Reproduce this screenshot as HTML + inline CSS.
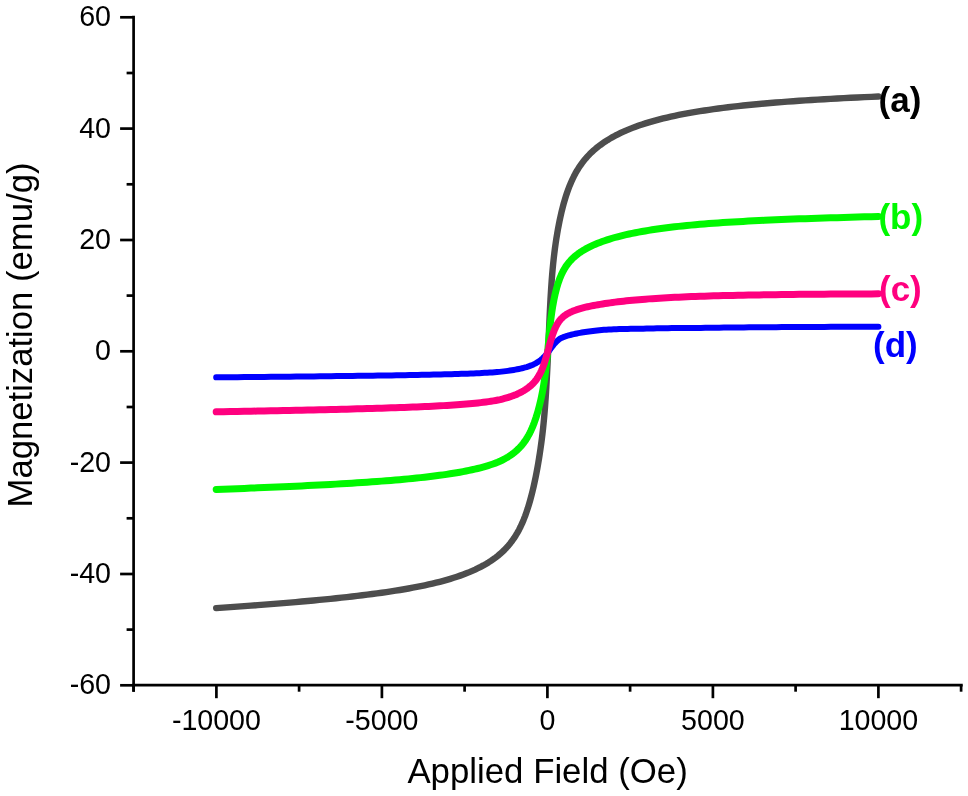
<!DOCTYPE html>
<html lang="en"><head><meta charset="utf-8"><title>Magnetization vs Applied Field</title>
<style>
html,body{margin:0;padding:0;background:#fff;}
body{width:968px;height:796px;overflow:hidden;}
svg{display:block;font-family:"Liberation Sans",Arial,Helvetica,sans-serif;}
.ax line{stroke:#000;stroke-width:2.7;}
.tl text{font-size:29.5px;fill:#000;}
.ttl{font-size:35.8px;fill:#000;}
.cv path{fill:none;stroke-linecap:round;stroke-linejoin:round;}
.lb text{font-size:35px;font-weight:bold;}
</style></head><body>
<svg width="968" height="796" viewBox="0 0 968 796">
<rect width="968" height="796" fill="#fff"/>
<g class="cv">
<path stroke="#4d4d4d" stroke-width="6.4" d="M216.20,608.14 223.34,607.65 230.39,607.15 237.34,606.65 244.20,606.16 250.97,605.66 257.64,605.15 264.22,604.65 270.70,604.14 277.10,603.63 283.40,603.11 289.61,602.59 295.73,602.07 301.76,601.54 307.70,601.00 313.55,600.47 319.32,599.92 324.99,599.37 330.58,598.81 336.08,598.24 341.50,597.67 346.83,597.09 352.07,596.50 357.23,595.90 362.30,595.29 367.29,594.67 372.20,594.03 377.02,593.39 381.76,592.73 386.42,592.06 391.00,591.38 395.50,590.68 399.92,589.97 404.26,589.24 408.52,588.49 412.70,587.72 416.80,586.94 420.83,586.13 424.77,585.31 428.65,584.46 432.44,583.59 436.16,582.70 439.81,581.78 443.38,580.84 446.88,579.87 450.31,578.87 453.66,577.82 456.95,576.74 460.16,575.63 463.30,574.49 466.37,573.31 469.37,572.10 472.30,570.84 475.17,569.55 477.96,568.22 480.69,566.84 483.36,565.41 485.95,563.94 488.49,562.41 490.95,560.82 493.36,559.17 495.70,557.46 497.98,555.68 500.19,553.82 502.35,551.88 504.44,549.85 506.47,547.73 508.45,545.51 510.36,543.19 512.22,540.74 514.02,538.18 515.77,535.49 517.45,532.66 519.09,529.68 520.66,526.53 522.19,523.19 523.66,519.70 525.08,516.06 526.44,512.26 527.76,508.32 529.02,504.23 530.24,500.01 531.41,495.67 532.52,491.22 533.59,486.67 534.62,482.04 535.60,477.34 536.53,472.59 537.42,467.80 538.27,462.98 539.07,458.13 539.83,453.26 540.55,448.40 541.23,443.52 541.88,438.61 542.48,433.64 543.05,428.60 543.57,423.49 544.07,418.30 544.53,413.02 544.95,407.69 545.35,402.34 545.71,397.02 546.04,391.79 546.34,386.73 546.61,381.92 546.86,377.40 547.07,373.24 547.27,369.47 547.44,366.10 547.58,363.15 547.71,360.62 547.81,358.49 547.89,356.74 547.96,355.34 548.01,354.27 548.05,353.49 548.08,352.97 548.09,352.66 548.10,352.53 548.10,352.50 548.10,352.47 548.11,352.30 548.12,351.94 548.15,351.31 548.19,350.38 548.24,349.09 548.30,347.41 548.39,345.31 548.49,342.75 548.62,339.70 548.76,336.17 548.93,332.14 549.12,327.63 549.34,322.66 549.58,317.29 549.85,311.59 550.15,305.63 550.48,299.52 550.84,293.35 551.23,287.20 551.65,281.16 552.11,275.27 552.60,269.57 553.13,264.05 553.69,258.71 554.29,253.54 554.93,248.52 555.61,243.62 556.33,238.84 557.09,234.15 557.89,229.55 558.73,225.05 559.61,220.63 560.54,216.30 561.52,212.08 562.54,207.95 563.60,203.94 564.71,200.05 565.87,196.27 567.08,192.62 568.34,189.11 569.65,185.72 571.01,182.46 572.42,179.34 573.89,176.34 575.40,173.46 576.97,170.71 578.60,168.07 580.28,165.54 582.01,163.11 583.80,160.78 585.65,158.55 587.56,156.40 589.52,154.33 591.55,152.33 593.63,150.41 595.78,148.56 597.98,146.76 600.25,145.03 602.58,143.35 604.97,141.72 607.43,140.15 609.95,138.62 612.53,137.13 615.18,135.69 617.90,134.30 620.68,132.94 623.53,131.62 626.45,130.34 629.44,129.10 632.49,127.89 635.62,126.72 638.81,125.58 642.08,124.47 645.42,123.39 648.83,122.34 652.31,121.33 655.87,120.34 659.50,119.38 663.20,118.45 666.98,117.54 670.83,116.66 674.76,115.81 678.77,114.98 682.85,114.17 687.01,113.39 691.25,112.63 695.57,111.89 699.96,111.17 704.44,110.47 709.00,109.79 713.63,109.13 718.35,108.49 723.15,107.87 728.04,107.27 733.00,106.68 738.05,106.11 743.19,105.55 748.40,105.01 753.71,104.48 759.10,103.97 764.57,103.48 770.13,103.00 775.78,102.53 781.52,102.07 787.34,101.63 793.25,101.20 799.25,100.78 805.34,100.37 811.53,99.97 817.80,99.59 824.16,99.21 830.61,98.85 837.16,98.49 843.80,98.15 850.53,97.81 857.36,97.49 864.28,97.17 871.29,96.86 878.40,96.56"/>
<path stroke="#00f800" stroke-width="7" d="M216.20,489.43 223.33,489.17 230.37,488.91 237.32,488.65 244.17,488.39 250.93,488.12 257.59,487.86 264.16,487.59 270.64,487.31 277.02,487.04 283.32,486.76 289.52,486.48 295.63,486.20 301.66,485.91 307.59,485.62 313.44,485.33 319.19,485.03 324.86,484.73 330.44,484.43 335.94,484.12 341.35,483.81 346.67,483.49 351.91,483.17 357.06,482.84 362.13,482.51 367.11,482.18 372.01,481.83 376.83,481.49 381.57,481.13 386.22,480.77 390.79,480.40 395.29,480.03 399.70,479.65 404.03,479.26 408.29,478.86 412.46,478.45 416.56,478.04 420.58,477.61 424.52,477.18 428.39,476.73 432.18,476.28 435.90,475.81 439.54,475.34 443.11,474.85 446.61,474.34 450.03,473.83 453.38,473.30 456.66,472.75 459.86,472.19 463.00,471.62 466.07,471.03 469.06,470.42 471.99,469.79 474.85,469.15 477.65,468.48 480.37,467.79 483.03,467.08 485.63,466.34 488.16,465.58 490.62,464.79 493.02,463.97 495.36,463.12 497.64,462.23 499.85,461.30 502.00,460.27 504.09,459.19 506.12,458.06 508.10,456.89 510.01,455.66 511.87,454.38 513.66,453.03 515.41,451.61 517.09,450.13 518.72,448.56 520.30,446.92 521.82,445.19 523.29,443.37 524.71,441.45 526.07,439.44 527.38,437.33 528.65,435.12 529.86,432.82 531.03,430.41 532.14,427.91 533.21,425.33 534.24,422.66 535.21,419.93 536.15,417.15 537.03,414.33 537.88,411.46 538.68,408.55 539.44,405.62 540.16,402.68 540.84,399.73 541.48,396.78 542.09,393.83 542.65,390.89 543.18,387.95 543.67,385.02 544.13,382.12 544.56,379.24 544.95,376.41 545.31,373.65 545.64,370.98 545.94,368.44 546.21,366.04 546.46,363.82 546.67,361.78 546.87,359.94 547.04,358.31 547.18,356.88 547.31,355.66 547.41,354.63 547.49,353.79 547.56,353.12 547.61,352.60 547.65,352.23 547.68,351.98 547.69,351.83 547.70,351.76 547.70,351.75 547.70,351.73 547.71,351.66 547.72,351.48 547.75,351.19 547.79,350.74 547.84,350.13 547.90,349.34 547.99,348.34 548.09,347.12 548.22,345.68 548.36,343.99 548.53,342.07 548.72,339.90 548.94,337.50 549.18,334.87 549.45,332.05 549.75,329.07 550.08,325.95 550.44,322.73 550.84,319.45 551.26,316.14 551.72,312.83 552.21,309.53 552.74,306.26 553.30,303.05 553.90,299.88 554.54,296.78 555.22,293.76 555.94,290.81 556.70,287.96 557.50,285.20 558.34,282.54 559.23,280.00 560.16,277.56 561.13,275.25 562.15,273.05 563.22,270.96 564.33,268.98 565.50,267.09 566.71,265.31 567.97,263.61 569.28,261.99 570.64,260.46 572.05,258.99 573.52,257.59 575.04,256.25 576.61,254.96 578.23,253.72 579.92,252.52 581.65,251.37 583.45,250.25 585.30,249.17 587.21,248.12 589.18,247.10 591.20,246.11 593.29,245.14 595.44,244.20 597.64,243.28 599.91,242.39 602.25,241.52 604.64,240.68 607.10,239.85 609.62,239.05 612.21,238.27 614.86,237.50 617.58,236.76 620.37,236.04 623.22,235.34 626.15,234.66 629.14,234.00 632.20,233.36 635.32,232.74 638.52,232.14 641.79,231.54 645.14,230.94 648.55,230.37 652.04,229.81 655.60,229.27 659.23,228.75 662.94,228.24 666.72,227.75 670.58,227.27 674.51,226.81 678.52,226.37 682.61,225.93 686.78,225.52 691.02,225.11 695.34,224.72 699.75,224.34 704.23,223.97 708.79,223.61 713.43,223.26 718.16,222.93 722.97,222.60 727.85,222.29 732.83,221.98 737.88,221.68 743.02,221.39 748.25,221.11 753.56,220.83 758.95,220.57 764.43,220.31 770.00,220.05 775.66,219.80 781.40,219.56 787.23,219.33 793.15,219.10 799.16,218.87 805.26,218.66 811.44,218.44 817.72,218.23 824.09,218.02 830.56,217.82 837.11,217.63 843.76,217.43 850.50,217.24 857.33,217.05 864.26,216.87 871.28,216.69 878.40,216.51"/>
<path stroke="#0000ff" stroke-width="6" d="M216.20,377.36 223.38,377.30 230.46,377.23 237.45,377.16 244.34,377.10 251.13,377.03 257.84,376.97 264.45,376.90 270.97,376.84 277.39,376.77 283.72,376.71 289.96,376.64 296.11,376.58 302.17,376.51 308.14,376.45 314.02,376.38 319.81,376.32 325.52,376.25 331.13,376.19 336.66,376.12 342.10,376.06 347.46,375.99 352.72,375.93 357.91,375.86 363.01,375.79 368.02,375.73 372.95,375.66 377.80,375.59 382.56,375.52 387.25,375.45 391.85,375.38 396.37,375.31 400.81,375.24 405.16,375.16 409.44,375.09 413.65,375.01 417.77,374.94 421.81,374.86 425.78,374.78 429.67,374.70 433.49,374.61 437.23,374.53 440.89,374.44 444.48,374.35 448.00,374.26 451.44,374.16 454.81,374.07 458.11,373.96 461.33,373.86 464.49,373.75 467.57,373.64 470.59,373.53 473.54,373.40 476.41,373.28 479.22,373.15 481.97,373.01 484.64,372.87 487.25,372.72 489.80,372.57 492.28,372.41 494.69,372.24 497.04,372.06 499.33,371.87 501.56,371.64 503.73,371.39 505.83,371.13 507.87,370.85 509.86,370.57 511.78,370.28 513.65,369.97 515.46,369.65 517.21,369.32 518.91,368.98 520.55,368.62 522.13,368.24 523.66,367.85 525.14,367.45 526.57,367.03 527.94,366.59 529.26,366.14 530.53,365.66 531.75,365.17 532.93,364.67 534.05,364.14 535.12,363.60 536.15,363.03 537.14,362.46 538.08,361.86 538.97,361.25 539.82,360.63 540.63,360.01 541.39,359.39 542.12,358.76 542.80,358.13 543.45,357.50 544.05,356.88 544.62,356.28 545.15,355.69 545.65,355.12 546.11,354.58 546.54,354.07 546.93,353.58 547.30,353.13 547.63,352.71 547.93,352.32 548.20,351.96 548.45,351.65 548.67,351.36 548.86,351.10 549.03,350.88 549.18,350.69 549.30,350.52 549.41,350.39 549.49,350.27 549.56,350.18 549.61,350.11 549.65,350.06 549.68,350.03 549.69,350.01 549.70,350.00 549.70,350.00 549.70,350.00 549.71,349.99 549.72,349.97 549.75,349.93 549.78,349.88 549.84,349.81 549.90,349.72 549.99,349.60 550.09,349.46 550.21,349.29 550.36,349.09 550.53,348.86 550.72,348.60 550.93,348.32 551.17,348.00 551.44,347.65 551.74,347.27 552.07,346.85 552.43,346.35 552.82,345.83 553.24,345.27 553.69,344.70 554.18,344.11 554.71,343.51 555.27,342.89 555.86,342.26 556.50,341.63 557.17,341.00 557.89,340.36 558.64,339.73 559.44,339.10 560.28,338.54 561.16,338.10 562.08,337.68 563.05,337.27 564.07,336.87 565.13,336.49 566.23,336.11 567.39,335.75 568.59,335.40 569.84,335.06 571.15,334.73 572.50,334.40 573.91,334.08 575.36,333.77 576.87,333.46 578.43,333.16 580.05,332.87 581.72,332.58 583.45,332.29 585.23,332.02 587.07,331.75 588.97,331.48 590.92,331.22 592.94,330.97 595.01,330.72 597.15,330.48 599.34,330.25 601.60,330.03 603.92,329.81 606.30,329.64 608.74,329.51 611.25,329.40 613.82,329.29 616.46,329.19 619.16,329.10 621.93,329.02 624.77,328.95 627.67,328.89 630.64,328.84 633.68,328.80 636.79,328.76 639.98,328.73 643.23,328.64 646.55,328.55 649.94,328.47 653.41,328.40 656.94,328.33 660.56,328.26 664.24,328.21 668.00,328.15 671.84,328.10 675.75,328.06 679.73,328.02 683.80,327.99 687.94,327.96 692.16,327.93 696.45,327.91 700.83,327.88 705.28,327.81 709.82,327.75 714.43,327.69 719.13,327.64 723.91,327.58 728.76,327.53 733.71,327.48 738.73,327.43 743.84,327.38 749.03,327.34 754.31,327.30 759.67,327.25 765.12,327.21 770.66,327.18 776.28,327.14 781.98,327.10 787.78,327.07 793.66,327.04 799.64,327.01 805.70,326.98 811.85,326.95 818.09,326.92 824.42,326.89 830.85,326.87 837.36,326.84 843.97,326.82 850.67,326.79 857.46,326.77 864.35,326.75 871.33,326.73 878.40,326.71"/>
<path stroke="#ff007f" stroke-width="7" d="M216.20,411.84 223.34,411.71 230.39,411.59 237.34,411.46 244.20,411.33 250.97,411.21 257.64,411.08 264.22,410.95 270.70,410.83 277.10,410.70 283.40,410.57 289.61,410.45 295.73,410.32 301.76,410.19 307.70,410.06 313.55,409.93 319.32,409.80 324.99,409.67 330.58,409.54 336.08,409.41 341.50,409.28 346.83,409.14 352.07,409.01 357.23,408.87 362.30,408.73 367.29,408.59 372.20,408.45 377.02,408.31 381.76,408.16 386.42,408.02 391.00,407.87 395.50,407.72 399.92,407.56 404.26,407.41 408.52,407.25 412.70,407.08 416.80,406.92 420.83,406.75 424.77,406.57 428.65,406.40 432.44,406.21 436.16,406.03 439.81,405.83 443.38,405.63 446.88,405.43 450.31,405.22 453.66,405.00 456.95,404.77 460.16,404.54 463.30,404.30 466.37,404.05 469.37,403.79 472.30,403.51 475.17,403.23 477.96,402.93 480.69,402.63 483.36,402.30 485.95,401.96 488.49,401.61 490.95,401.24 493.36,400.85 495.70,400.44 497.98,400.01 500.19,399.56 502.35,399.03 504.44,398.48 506.47,397.91 508.45,397.31 510.36,396.69 512.22,396.04 514.02,395.37 515.77,394.67 517.45,393.94 519.09,393.18 520.66,392.39 522.19,391.58 523.66,390.74 525.08,389.87 526.44,388.96 527.76,388.03 529.02,387.07 530.24,386.07 531.41,385.04 532.52,383.97 533.59,382.87 534.62,381.73 535.60,380.55 536.53,379.33 537.42,378.06 538.27,376.75 539.07,375.40 539.83,374.02 540.55,372.61 541.23,371.18 541.88,369.73 542.48,368.26 543.05,366.80 543.57,365.35 544.07,363.92 544.53,362.52 544.95,361.18 545.35,359.89 545.71,358.67 546.04,357.53 546.34,356.47 546.61,355.50 546.86,354.61 547.07,353.81 547.27,353.10 547.44,352.48 547.58,351.94 547.71,351.47 547.81,351.09 547.89,350.77 547.96,350.51 548.01,350.32 548.05,350.18 548.08,350.08 548.09,350.03 548.10,350.00 548.10,350.00 548.10,350.00 548.11,349.97 548.12,349.92 548.15,349.83 548.19,349.69 548.24,349.50 548.30,349.25 548.39,348.95 548.49,348.57 548.62,348.12 548.76,347.59 548.93,346.98 549.12,346.29 549.34,345.51 549.58,344.64 549.85,343.68 550.15,342.63 550.48,341.50 550.84,340.29 551.23,338.99 551.65,337.64 552.11,336.22 552.60,334.75 553.13,333.25 553.69,331.74 554.29,330.21 554.93,328.70 555.61,327.22 556.33,325.78 557.09,324.38 557.89,323.05 558.73,321.77 559.61,320.57 560.54,319.44 561.52,318.39 562.54,317.40 563.60,316.47 564.71,315.60 565.87,314.78 567.08,314.02 568.34,313.29 569.65,312.61 571.01,311.96 572.42,311.34 573.89,310.75 575.40,310.19 576.97,309.65 578.60,309.13 580.28,308.63 582.01,308.14 583.80,307.67 585.65,307.21 587.56,306.77 589.52,306.34 591.55,305.92 593.63,305.51 595.78,305.11 597.98,304.71 600.25,304.33 602.58,303.95 604.97,303.57 607.43,303.20 609.95,302.84 612.53,302.48 615.18,302.14 617.90,301.80 620.68,301.47 623.53,301.15 626.45,300.84 629.44,300.54 632.49,300.24 635.62,299.95 638.81,299.67 642.08,299.40 645.42,299.14 648.83,298.88 652.31,298.64 655.87,298.40 659.50,298.17 663.20,297.95 666.98,297.73 670.83,297.52 674.76,297.32 678.77,297.13 682.85,296.95 687.01,296.77 691.25,296.61 695.57,296.45 699.96,296.29 704.44,296.14 709.00,296.00 713.63,295.87 718.35,295.74 723.15,295.61 728.04,295.49 733.00,295.38 738.05,295.27 743.19,295.17 748.40,295.07 753.71,294.97 759.10,294.89 764.57,294.80 770.13,294.72 775.78,294.64 781.52,294.57 787.34,294.50 793.25,294.43 799.25,294.37 805.34,294.31 811.53,294.26 817.80,294.20 824.16,294.15 830.61,294.11 837.16,294.06 843.80,294.02 850.53,293.98 857.36,293.94 864.28,293.91 871.29,293.88 878.40,293.85"/>
</g>
<g class="ax">
<line x1="133.6" y1="15.85" x2="133.6" y2="691.7"/>
<line x1="132.25" y1="685.2" x2="962.75" y2="685.2"/>
<line x1="120.1" y1="685.3" x2="133.6" y2="685.3"/>
<line x1="126.6" y1="629.6" x2="133.6" y2="629.6"/>
<line x1="120.1" y1="574.0" x2="133.6" y2="574.0"/>
<line x1="126.6" y1="518.3" x2="133.6" y2="518.3"/>
<line x1="120.1" y1="462.6" x2="133.6" y2="462.6"/>
<line x1="126.6" y1="407.0" x2="133.6" y2="407.0"/>
<line x1="120.1" y1="351.3" x2="133.6" y2="351.3"/>
<line x1="126.6" y1="295.6" x2="133.6" y2="295.6"/>
<line x1="120.1" y1="240.0" x2="133.6" y2="240.0"/>
<line x1="126.6" y1="184.3" x2="133.6" y2="184.3"/>
<line x1="120.1" y1="128.6" x2="133.6" y2="128.6"/>
<line x1="126.6" y1="73.0" x2="133.6" y2="73.0"/>
<line x1="120.1" y1="17.3" x2="133.6" y2="17.3"/>
<line x1="133.6" y1="685.2" x2="133.6" y2="691.7"/>
<line x1="216.4" y1="685.2" x2="216.4" y2="698.2"/>
<line x1="299.1" y1="685.2" x2="299.1" y2="691.7"/>
<line x1="381.9" y1="685.2" x2="381.9" y2="698.2"/>
<line x1="464.6" y1="685.2" x2="464.6" y2="691.7"/>
<line x1="547.4" y1="685.2" x2="547.4" y2="698.2"/>
<line x1="630.1" y1="685.2" x2="630.1" y2="691.7"/>
<line x1="712.9" y1="685.2" x2="712.9" y2="698.2"/>
<line x1="795.6" y1="685.2" x2="795.6" y2="691.7"/>
<line x1="878.4" y1="685.2" x2="878.4" y2="698.2"/>
<line x1="961.1" y1="685.2" x2="961.1" y2="691.7"/>
</g>
<g class="tl">
<text transform="translate(111.0,694.3) scale(0.97,1)" text-anchor="end">-60</text>
<text transform="translate(111.0,583.0) scale(0.97,1)" text-anchor="end">-40</text>
<text transform="translate(111.0,471.6) scale(0.97,1)" text-anchor="end">-20</text>
<text transform="translate(111.0,360.3) scale(0.97,1)" text-anchor="end">0</text>
<text transform="translate(111.0,249.0) scale(0.97,1)" text-anchor="end">20</text>
<text transform="translate(111.0,137.6) scale(0.97,1)" text-anchor="end">40</text>
<text transform="translate(111.0,26.3) scale(0.97,1)" text-anchor="end">60</text>
<text transform="translate(216.4,729.5) scale(0.97,1)" text-anchor="middle">-10000</text>
<text transform="translate(381.9,729.5) scale(0.97,1)" text-anchor="middle">-5000</text>
<text transform="translate(547.4,729.5) scale(0.97,1)" text-anchor="middle">0</text>
<text transform="translate(712.9,729.5) scale(0.97,1)" text-anchor="middle">5000</text>
<text transform="translate(878.4,729.5) scale(0.97,1)" text-anchor="middle">10000</text>
</g>
<text class="ttl" transform="translate(547.6,782.7) scale(0.972,1)" text-anchor="middle">Applied Field (Oe)</text>
<text class="ttl" transform="translate(31.9,335) rotate(-90) scale(0.969,1)" text-anchor="middle">Magnetization (emu/g)</text>
<g class="lb">
<text x="878.6" y="112.1" fill="#000">(a)</text>
<text x="878.4" y="228.9" fill="#00f800">(b)</text>
<text x="879" y="301.1" fill="#ff007f">(c)</text>
<text x="873" y="356.7" fill="#0000ff">(d)</text>
</g>
</svg>
</body></html>
